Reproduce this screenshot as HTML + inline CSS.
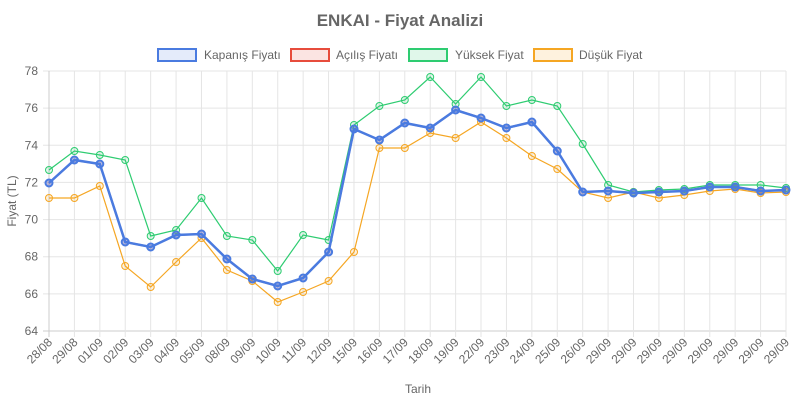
<!DOCTYPE html>
<html><head><meta charset="utf-8">
<style>
html,body{margin:0;padding:0;background:#fff;width:800px;height:400px;overflow:hidden}
svg text{font-family:"Liberation Sans",Arial,sans-serif}
</style></head>
<body>
<svg id="c" width="800" height="400" xmlns="http://www.w3.org/2000/svg"></svg>
<script>
const svg=document.getElementById('c');
const L=49,R=786,T=71,B=331;
const labels=["28/08","29/08","01/09","02/09","03/09","04/09","05/09","08/09","09/09","10/09","11/09","12/09","15/09","16/09","17/09","18/09","19/09","22/09","23/09","24/09","25/09","26/09","29/09","29/09","29/09","29/09","29/09","29/09","29/09","29/09"];
const dx=(R-L)/29;
const close=[183,160,164,242,247,235,234,259,279,286,278,252,129,140,123,128,110,118,128,122,151,192,191,193,192,191,187,187,191,190];
const high=[170,151,155,160,236,230,198,236,240,271,235,240,125,106,100,77,104,77,106,100,106,144,185,192,190,189,185,185,185,188];
const low=[198,198,186,266,287,262,238,270,281,302,292,281,252,148,148,133,138,122,138,156,169,192,198,192,198,195,191,189,193,192];
let h='';
h+='<text x="400" y="26" text-anchor="middle" font-size="17" font-weight="bold" fill="#666">ENKAI - Fiyat Analizi</text>';
// grid
for(let i=0;i<=7;i++){const y=B-i*(B-T)/7;h+=`<line x1="${L-6}" x2="${R}" y1="${y}" y2="${y}" stroke="${i==0?'#ccc':'#e5e5e5'}"/>`;
h+=`<text x="${L-11}" y="${y+4}" text-anchor="end" font-size="12" fill="#666">${64+2*i}</text>`;}
for(let i=0;i<30;i++){const x=L+i*dx;h+=`<line x1="${x}" x2="${x}" y1="${T}" y2="${B+6}" stroke="${i==0?'#ccc':'#e5e5e5'}"/>`;
h+=`<text transform="translate(${x+4},${B+12}) rotate(-45)" text-anchor="end" font-size="12" fill="#666">${labels[i]}</text>`;}
h+='<text transform="translate(16,201) rotate(-90)" text-anchor="middle" font-size="12" fill="#666">Fiyat (TL)</text>';
h+='<text x="418" y="393" text-anchor="middle" font-size="12" fill="#666">Tarih</text>';
function series(d,col,w,r,fill){let p=d.map((y,i)=>`${(L+i*dx).toFixed(1)},${y}`).join(' ');
let s=`<polyline points="${p}" fill="none" stroke="${col}" stroke-width="${w}"/>`;
d.forEach((y,i)=>{s+=`<circle cx="${(L+i*dx).toFixed(1)}" cy="${y}" r="${r}" fill="${fill}" stroke="${col}" stroke-width="${w>2?2:1}"/>`});return s;}
h+=series(low,'#f5a623',1.2,3.5,'rgba(245,166,35,0.15)');
h+=series(high,'#2ecc71',1.2,3.5,'rgba(46,204,113,0.15)');
h+=series(close,'#e74c3c',2,3.5,'rgba(231,76,60,0.2)');
h+=series(close,'#4a7be0',2.5,3.5,'rgba(74,123,224,0.35)');
// legend
const leg=[[157,204,'Kapanış Fiyatı','#4a7be0','rgba(74,123,224,0.15)'],[290,336,'Açılış Fiyatı','#e74c3c','rgba(231,76,60,0.15)'],[408,455,'Yüksek Fiyat','#2ecc71','rgba(46,204,113,0.15)'],[533,579,'Düşük Fiyat','#f5a623','rgba(245,166,35,0.15)']];
leg.forEach(l=>{h+=`<rect x="${l[0]+1}" y="${48+1}" width="38" height="12" fill="${l[4]}" stroke="${l[3]}" stroke-width="2"/>`;
h+=`<text x="${l[1]}" y="59" font-size="12" fill="#666">${l[2]}</text>`;});
svg.innerHTML=h;
</script>
</body></html>
